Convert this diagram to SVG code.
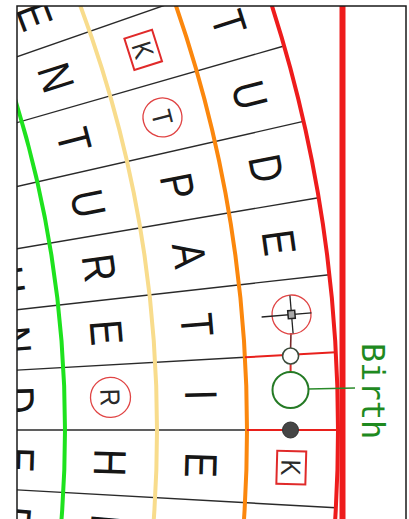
<svg xmlns="http://www.w3.org/2000/svg" width="409" height="519" viewBox="0 0 409 519">
<style>
.L{font-family:"Liberation Sans",Arial,sans-serif;font-size:38px;fill:#161616;text-anchor:middle}
.S{font-family:"Liberation Sans",Arial,sans-serif;font-size:24px;fill:#2a2a2a;text-anchor:middle}
.arc{fill:none;stroke-width:4}
.sp{stroke:#2a2a2a;stroke-width:1.4;fill:none}
.spr{stroke:#e8201c;stroke-width:2;fill:none}
.box{fill:none;stroke:#e02a2a;stroke-width:2}
.ring{fill:none;stroke:#e04444;stroke-width:1.3}
</style>
<defs>
<clipPath id="frame"><rect x="17" y="6" width="389" height="513"/></clipPath>
</defs>
<rect x="0" y="0" width="409" height="519" fill="#fff"/>
<g clip-path="url(#frame)">
<g id="grid">
<line class="sp" x1="-5" y1="430" x2="247" y2="430"/>
<line class="sp" x1="-6.6" y1="371.4" x2="245" y2="357.3"/>
<line class="sp" x1="-11.5" y1="313" x2="329.3" y2="274.7"/>
<line class="sp" x1="-19.7" y1="254.9" x2="318.5" y2="197.7"/>
<line class="sp" x1="-31.1" y1="197.4" x2="303.4" y2="121.4"/>
<line class="sp" x1="-45.7" y1="140.6" x2="284" y2="46"/>
<line class="sp" x1="-63.4" y1="84.7" x2="260.5" y2="-28.1"/>
<line class="sp" x1="-6.6" y1="488.6" x2="335.8" y2="507.8"/>
<circle class="arc" cx="-1055" cy="430" r="1120" stroke="#1ee21e"/>
<circle class="arc" cx="-1055" cy="430" r="1212" stroke="#f8dc8c"/>
<circle class="arc" cx="-1055" cy="430" r="1302" stroke="#fb870d"/>
<circle class="arc" cx="-1055" cy="430" r="1393" stroke="#ee1c1c"/>
<line x1="342.5" y1="0" x2="342.5" y2="519" stroke="#ee1c1c" stroke-width="6"/>
</g>
<g id="ring0">
<g id="r0k2" transform="translate(8.6,280.5) rotate(82) scale(1,1.2)"><text class="L" y="13.6">U</text></g>
<g id="r0k1" transform="translate(15.2,340.1) rotate(85.2) scale(1,1.2)"><text class="L" y="13.6">N</text></g>
<g id="r0k0" transform="translate(18.6,400) rotate(88.4) scale(1,1.2)"><text class="L" y="13.6">D</text></g>
<g id="r0km1" transform="translate(18.6,460) rotate(91.6) scale(1,1.2)"><text class="L" y="13.6">E</text></g>
<g id="r0km2" transform="translate(15.2,519.9) rotate(94.8) scale(1,1.2)"><text class="L" y="13.6">R</text></g>
</g>
<g id="ring1">
<g id="r1k6" transform="translate(35,15.9) rotate(69.2) scale(1,1.2)"><text class="L" y="13.6">E</text></g>
<g id="r1k5" transform="translate(56.4,77.4) rotate(72.4) scale(1,1.2)"><text class="L" y="13.6">N</text></g>
<g id="r1k4" transform="translate(74.4,140) rotate(75.6) scale(1,1.2)"><text class="L" y="13.6">T</text></g>
<g id="r1k3" transform="translate(88.8,203.5) rotate(78.8) scale(1,1.2)"><text class="L" y="13.6">U</text></g>
<g id="r1k2" transform="translate(99.7,267.7) rotate(82) scale(1,1.2)"><text class="L" y="13.6">R</text></g>
<g id="r1k1" transform="translate(106.9,332.4) rotate(85.2) scale(1,1.2)"><text class="L" y="13.6">E</text></g>
<g id="r1k0" transform="translate(110.5,397.4) rotate(88.4)"><circle class="ring" r="20"/><g transform="scale(1,1.15)"><text class="S" y="8.6">R</text></g></g>
<g id="r1km1" transform="translate(110.5,462.6) rotate(91.6) scale(1,1.2)"><text class="L" y="13.6">H</text></g>
<g id="r1km2" transform="translate(106.9,527.6) rotate(94.8) scale(1,1.2)"><text class="L" y="13.6">E</text></g>
</g>
<g id="ring2">
<g id="r2k5" transform="translate(143.2,49.9) rotate(72.4)"><rect class="box" x="-16.5" y="-14.5" width="33" height="29"/><g transform="scale(1,1.15)"><text class="S" y="8.6">K</text></g></g>
<g id="r2k4" transform="translate(162.5,117.4) rotate(75.6)"><circle class="ring" r="19.5"/><g transform="scale(1,1.15)"><text class="S" y="8.6">T</text></g></g>
<g id="r2k3" transform="translate(178.1,185.9) rotate(78.8) scale(1,1.2)"><text class="L" y="13.6">P</text></g>
<g id="r2k2" transform="translate(189.8,255.1) rotate(82) scale(1,1.2)"><text class="L" y="13.6">A</text></g>
<g id="r2k1" transform="translate(197.6,324.8) rotate(85.2) scale(1,1.2)"><text class="L" y="13.6">T</text></g>
<g id="r2k0" transform="translate(201.5,394.9) rotate(88.4) scale(1,1.2)"><text class="L" y="13.6">I</text></g>
<g id="r2km1" transform="translate(201.5,465.1) rotate(91.6) scale(1,1.2)"><text class="L" y="13.6">E</text></g>
</g>
<g id="ring3">
<g id="r3k5" transform="translate(229.4,22.6) rotate(72.4) scale(1,1.2)"><text class="L" y="13.6">T</text></g>
<g id="r3k4" transform="translate(250.2,94.9) rotate(75.6) scale(1,1.2)"><text class="L" y="13.6">U</text></g>
<g id="r3k3" transform="translate(266.8,168.3) rotate(78.8) scale(1,1.2)"><text class="L" y="13.6">D</text></g>
<g id="r3k2" transform="translate(279.4,242.5) rotate(82) scale(1,1.2)"><text class="L" y="13.6">E</text></g>
<g id="r3km1" transform="translate(291.3,467.6) rotate(91.6)"><rect class="box" x="-16.5" y="-14.5" width="33" height="29"/><g transform="scale(1,1.15)"><text class="S" y="8.6">K</text></g></g>
</g>
<g id="connectors">
<line class="spr" x1="247" y1="430" x2="338" y2="430"/>
<line class="spr" x1="245" y1="357.3" x2="335.8" y2="352.2"/>
<line x1="291" y1="333" x2="290.6" y2="348" stroke="#7a2a2a" stroke-width="1.6"/>
<line x1="290.6" y1="364" x2="290.6" y2="372" stroke="#d8302c" stroke-width="2"/>
<line x1="308.5" y1="389" x2="355" y2="388" stroke="#2a8a2a" stroke-width="1.6"/>
</g>
<g id="crosshair" transform="translate(291.5,314.5) rotate(-4.8)">
<circle class="ring" r="19.5"/>
<line x1="-30" y1="0" x2="20" y2="0" stroke="#222" stroke-width="1.3"/>
<line x1="0" y1="-19" x2="0" y2="19" stroke="#222" stroke-width="1.3"/>
<rect x="-3.5" y="-4" width="7" height="8" fill="#aaa" stroke="#222" stroke-width="1.5"/>
</g>
<g id="smallCircle"><circle cx="290.6" cy="356" r="8" fill="#fff" stroke="#3c4c3c" stroke-width="1.6"/></g>
<g id="birthCircle"><circle cx="290.5" cy="390" r="18" fill="#fff" stroke="#257a25" stroke-width="2"/></g>
<g id="dot"><circle cx="290.5" cy="430" r="8" fill="#454545" stroke="#333" stroke-width="1"/></g>
<g id="birth"><text transform="translate(362,343) rotate(90)" font-family="'DejaVu Sans Mono',monospace" font-size="32" fill="#1f8a1f">Birth</text></g>
</g>
<g id="border" fill="none" stroke="#1a1a1a" stroke-width="1.5">
<polyline points="17,519 17,6 406,6 406,519"/>
</g>
</svg>
